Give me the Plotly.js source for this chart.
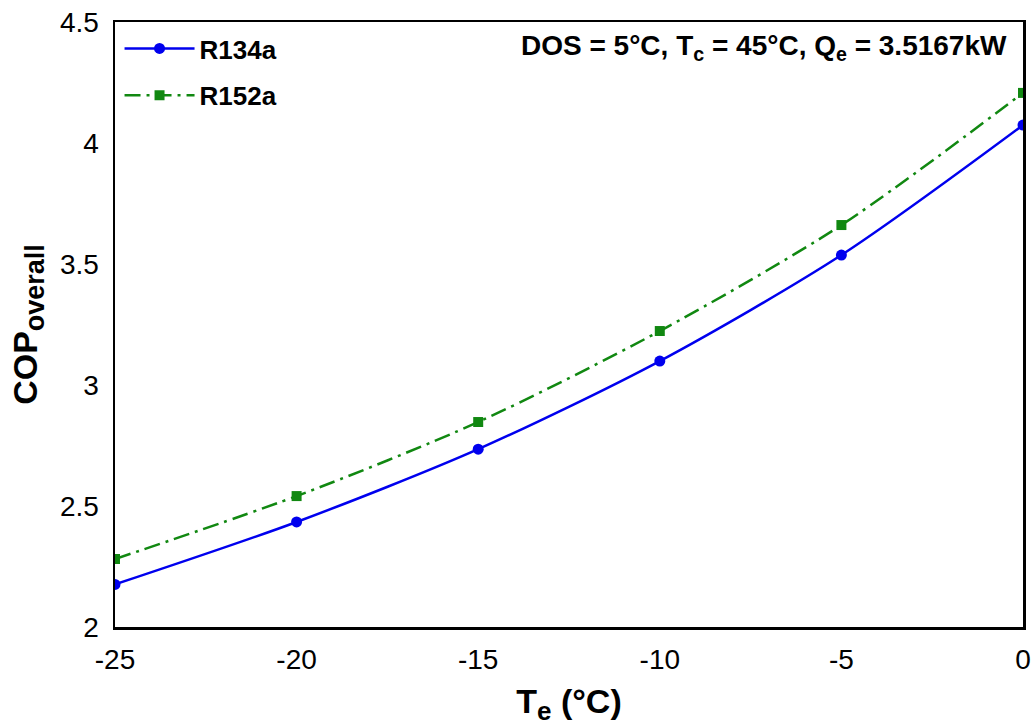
<!DOCTYPE html>
<html>
<head>
<meta charset="utf-8">
<script src="https://cdn.plot.ly/plotly-3.0.1.min.js"></script>
<style>html,body{margin:0;padding:0;background:#fff;}#chart{width:1035px;height:726px;}</style>
</head>
<body>
<div id="chart"></div>
<script>
const te = [-25, -20, -15, -10, -5, 0];
const copR134a = [2.176, 2.434, 2.735, 3.099, 3.537, 4.074];
const copR152a = [2.281, 2.541, 2.847, 3.223, 3.661, 4.207];
const xTicks = [-25, -20, -15, -10, -5, 0];
const yTicks = [2, 2.5, 3, 3.5, 4, 4.5];
const yTickText = ['2', '2.5', '3', '3.5', '4', '4.5'];

const FONT = 'Liberation Sans, Arial, sans-serif';

const traces = [
  {
    x: te, y: copR134a, name: 'R134a', mode: 'lines+markers', legendgroup: 'a',
    line: {color: '#0000ee', width: 2.5, shape: 'spline', smoothing: 0.8},
    marker: {symbol: 'circle', size: 11, color: '#0000ee'}
  },
  {
    x: te, y: copR152a, name: 'R152a', mode: 'lines+markers', legendgroup: 'b',
    line: {color: '#118811', width: 2.5, shape: 'spline', smoothing: 0.8, dash: '16px,6px,3px,6px'},
    marker: {symbol: 'square', size: 10, color: '#118811'}
  }
];

const axisCommon = {
  showline: true, linecolor: '#000', linewidth: 2.5, mirror: true,
  showgrid: false, zeroline: false, ticks: '',
  tickfont: {family: FONT, size: 28, color: '#000'}
};

const layout = {
  width: 1035, height: 726,
  margin: {l: 115, r: 12, t: 22, b: 99},
  paper_bgcolor: '#fff', plot_bgcolor: '#fff',
  showlegend: true,
  legend: {
    x: 0.005, y: 0.995, xanchor: 'left', yanchor: 'top',
    bgcolor: 'rgba(0,0,0,0)', itemwidth: 70,
    font: {family: FONT, size: 26, color: '#000', weight: 'bold'},
    tracegroupgap: 10
  },
  xaxis: Object.assign({}, axisCommon, {
    range: [-25, 0], tickvals: xTicks, ticktext: xTicks.map(String),
    ticklabelstandoff: 6,
    title: {text: '<b>T<sub><span style="font-size:26px">e</span></sub> (°C)</b>', font: {family: FONT, size: 34, color: '#000'}, standoff: 20}
  }),
  yaxis: Object.assign({}, axisCommon, {
    range: [2, 4.5], tickvals: yTicks, ticktext: yTickText,
    ticklabelstandoff: 8,
    title: {text: '<b>COP<sub><span style="font-size:27px">overall</span></sub></b>', font: {family: FONT, size: 34, color: '#000'}, standoff: 12}
  }),
  annotations: [{
    xref: 'paper', yref: 'paper', x: 0.985, y: 0.99, xanchor: 'right', yanchor: 'top',
    showarrow: false,
    text: '<b>DOS = 5°C, T<sub>c</sub> = 45°C, Q<sub>e</sub> = 3.5167kW</b>',
    font: {family: FONT, size: 28, color: '#000'}
  }]
};

Plotly.newPlot('chart', traces, layout, {displayModeBar: false, staticPlot: true});
</script>
</body>
</html>
